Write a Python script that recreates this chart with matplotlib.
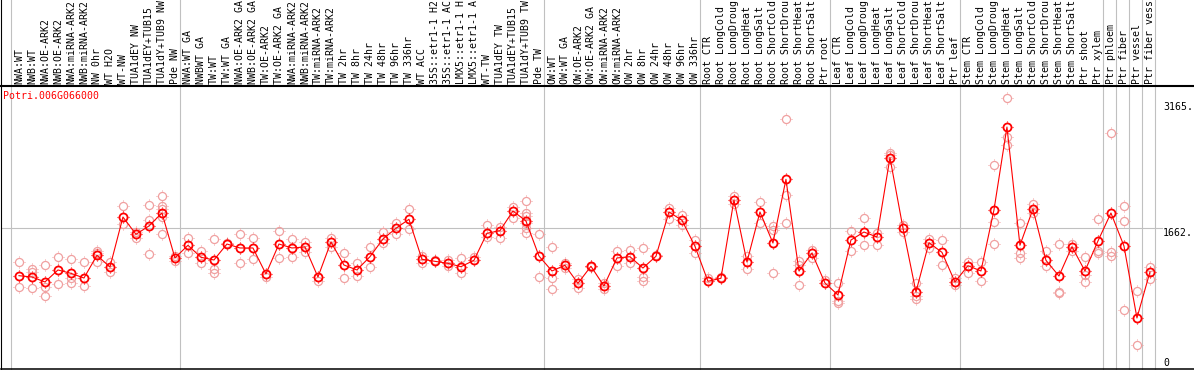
import numpy as np
import matplotlib.pyplot as plt
from matplotlib.path import Path
from matplotlib.lines import Line2D
from matplotlib import transforms

# Nombres de las muestras (88 columnas), tal como se ven (cortados a 14 caracteres)
muestras = [
    "NWA:WT", "NWB:WT", "NWA:OE-ARK2", "NWB:OE-ARK2", "NWA:miRNA-ARK2", "NWB:miRNA-ARK2",
    "NW 0hr", "WT H2O", "WT-NW", "TUA1dEY NW", "TUA1dEY+TUB15", "TUA1dY+TUB9 NW", "Pde NW",
    "NWA:WT GA", "NWBWT GA", "TW:WT", "TW:WT GA", "NWA:OE-ARK2 GA", "NWB:OE-ARK2 GA",
    "TW:OE-ARK2", "TW:OE-ARK2 GA", "NWA:miRNA-ARK2", "NWB:miRNA-ARK2", "TW:miRNA-ARK2",
    "TW:miRNA-ARK2", "TW 2hr", "TW 8hr", "TW 24hr", "TW 48hr", "TW 96hr", "TW 336hr", "WT ACC",
    "35S::etr1-1 H2", "35S::etr1-1 AC", "LMX5::etr1-1 H", "LMX5::etr1-1 A", "WT-TW",
    "TUA1dEY TW", "TUA1dEY+TUB15", "TUA1dY+TUB9 TW", "Pde TW",
    "OW:WT", "OW:WT GA", "OW:OE-ARK2", "OW:OE-ARK2 GA", "OW:miRNA-ARK2", "OW:miRNA-ARK2",
    "OW 2hr", "OW 8hr", "OW 24hr", "OW 48hr", "OW 96hr", "OW 336hr",
    "Root CTR", "Root LongCold", "Root LongDroug", "Root LongHeat", "Root LongSalt",
    "Root ShortCold", "Root ShortDrou", "Root ShortHeat", "Root ShortSalt", "Ptr root",
    "Leaf CTR", "Leaf LongCold", "Leaf LongDroug", "Leaf LongHeat", "Leaf LongSalt",
    "Leaf ShortCold", "Leaf ShortDrou", "Leaf ShortHeat", "Leaf ShortSalt", "Ptr leaf",
    "Stem CTR", "Stem LongCold", "Stem LongDroug", "Stem LongHeat", "Stem LongSalt",
    "Stem ShortCold", "Stem ShortDrou", "Stem ShortHeat", "Stem ShortSalt", "Ptr shoot",
    "Ptr xylem", "Ptr phloem", "Ptr fiber", "Ptr vessel", "Ptr fiber vess",
]

# Limites de grupos (en columnas)
grupos = [0, 13, 41, 53, 63, 73, 84, 85, 86, 87, 88]

# Medias de expresion
medias = [
    1094, 1078, 1019, 1162, 1122, 1066, 1337, 1197, 1793, 1587, 1686, 1841, 1305,
    1456, 1313, 1281, 1471, 1424, 1424, 1114, 1471, 1424, 1436, 1078, 1495, 1221,
    1162, 1320, 1531, 1658, 1766, 1289, 1265, 1241, 1201, 1277, 1599, 1630, 1865,
    1745, 1328,
    1150, 1218, 1003, 1206, 971, 1305, 1320, 1185, 1325, 1853, 1754, 1444,
    1027, 1063, 1996, 1257, 1853, 1483, 2242, 1150, 1364, 1007,
    864, 1519, 1614, 1555, 2500, 1662, 900, 1487, 1372, 1019,
    1213, 1150, 1876, 2865, 1456, 1888, 1277, 1090, 1439, 1150, 1507,
    1841, 1448, 590, 1138,
]

# Replicas
replicas = [
    [1253, 955], [1174, 1138, 944], [1218, 955, 852], [1313, 991], [1293, 1063, 1010],
    [1257, 967], [1392, 1368, 1253], [1253, 1141], [1924, 1710], [1618, 1539],
    [1936, 1757, 1352], [2043, 1924, 1885, 1797, 1587], [1328, 1272],
    [1543, 1364], [1388, 1241], [1527, 1170, 1129], [1480], [1591, 1245], [1539, 1293],
    [1075], [1626, 1301], [1527, 1313], [1492, 1380], [1027], [1539, 1432], [1361, 1066],
    [1249, 1090], [1432, 1201], [1614, 1487], [1718, 1591], [1885, 1647], [1332, 1241],
    [1281], [1281, 1213], [1301, 1129], [1320], [1698, 1551], [1670, 1539], [1916, 1778],
    [1984, 1844, 1805, 1718, 1658, 1599], [1591, 1075],
    [1432, 1063, 932], [1241, 1182], [1058, 944], [1200, 1212], [1003, 939], [1388, 1213],
    [1400, 1249], [1424, 1082, 1027], [1337], [1904, 1766], [1817, 1694], [1515, 1368],
    [1066], [1078], [2043, 1952], [1325, 1177], [1972, 1722], [1686, 1642, 1122],
    [2957, 2052, 1722], [1265, 1218, 986], [1403, 1308], [1042],
    [1007, 789, 772], [1623, 1388], [1781, 1456], [1602, 1456], [2556, 2535, 2389],
    [1701, 1614], [1010, 852, 813], [1535, 1424], [1519, 1225], [1070, 979],
    [1253, 1126], [1257, 1027], [2409, 1733, 1468], [3211, 2746, 2647], [1725, 1364, 1305],
    [1952, 1844], [1384, 1209], [1468, 900, 888], [1475, 1384], [1313, 1098, 1015],
    [1766, 1384, 1368],
    [2794, 1376, 1325], [1921, 1745, 681], [908, 264], [1197, 1058],
]

gen = "Potri.006G066000"
marcas_y = ["3165.", "1662.", "0"]
valores_y = [3165, 1662, 0]

W, H = 1194, 370
rojo = "#ff0000"
rosa = "#f0a0a0"
gris = "#c0c0c0"
fuente = "DejaVu Sans Mono"
fs = 7.1

fig = plt.figure(figsize=(W / 100, H / 100), dpi=100)
# ejes: de x=1 a x=1194 px, y de 86 a 369 px (desde arriba)
ax = fig.add_axes([1 / W, 1 / H, (W - 1) / W, (369 - 86) / H])
col_w = 13.0
x0 = 10.5
ax.set_xlim((1 - x0) / col_w, (W - x0) / col_w)
k = 11.914  # unidades por pixel
ax.set_ylim((367.5 - 369) * k, (367.5 - 86) * k)
ax.set_xticks([])
ax.set_yticks([])
ax.spines["right"].set_visible(False)
ax.spines["top"].set_linewidth(1.5)
ax.spines["bottom"].set_linewidth(1.1)
ax.spines["left"].set_linewidth(0.8)

# lineas verticales de grupos (incluyen la cabecera)
for g in grupos:
    ax.axvline(g, ymin=0, ymax=369 / 283, color=gris, lw=0.8, clip_on=False, zorder=0)
# linea horizontal en el valor medio
ax.axhline(1662, xmin=0, xmax=(1162 - 1) / (W - 1), color=gris, lw=0.8, zorder=0)
# borde izquierdo en la cabecera
fig.add_artist(Line2D([1 / W, 1 / W], [284 / H, 1], color="black", lw=0.8))

# marcador de rayitas (cruz alrededor del circulo)
v = [(0, 0.8), (0, 1), (0, -0.8), (0, -1), (0.8, 0), (1, 0), (-0.8, 0), (-1, 0)]
c = [Path.MOVETO, Path.LINETO] * 4
rayas = Path(v, c)

x = np.arange(len(medias)) + 0.65
xr, yr = [], []
for i, reps in enumerate(replicas):
    for r in reps:
        xr.append(x[i])
        yr.append(r)

ax.plot(xr, yr, ls="none", marker="o", ms=5.8, mfc="none", mec=rosa, mew=0.9, zorder=2)
ax.plot(xr, yr, ls="none", marker=rayas, ms=8.2, mec=rosa, mew=0.7, zorder=2)
ax.plot(x, medias, color=rojo, lw=0.8, zorder=3)
ax.plot(x, medias, ls="none", marker="o", ms=5.8, mfc="none", mec=rojo, mew=1.3, zorder=4)
ax.plot(x, medias, ls="none", marker=rayas, ms=8.2, mec=rojo, mew=0.8, zorder=4)

# etiquetas de la cabecera
tr = transforms.blended_transform_factory(ax.transData, fig.transFigure)
for i, nombre in enumerate(muestras):
    ax.text(x[i], (H - 84) / H, nombre, rotation=90, ha="center", va="bottom",
            fontsize=fs, family=fuente, transform=tr, clip_on=False)

# nombre del gen
fig.text(3 / W, 1 - 91 / H, gen, color=rojo, fontsize=fs, family=fuente, va="top", ha="left")

# valores del eje derecho
xl = (1163 - x0) / col_w
for t, val in zip(marcas_y, valores_y):
    ax.text(xl, val, t, fontsize=fs, family=fuente, ha="left",
            va="bottom" if val == 0 else "top")

fig.savefig("out.png", dpi=100)
